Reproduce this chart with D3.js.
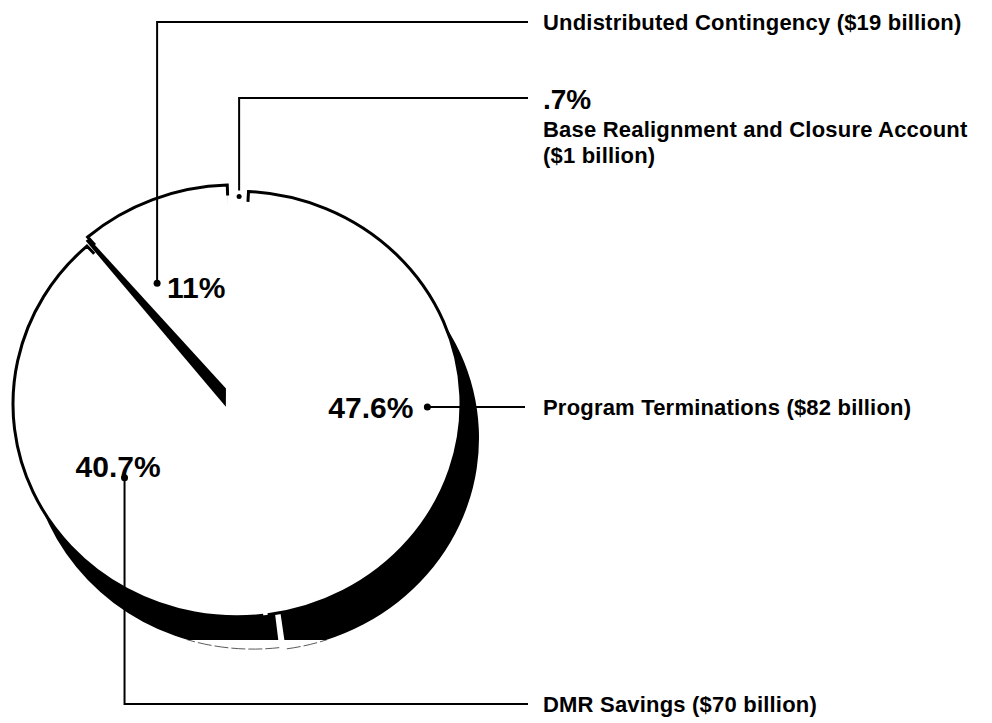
<!DOCTYPE html>
<html>
<head>
<meta charset="utf-8">
<script src="https://cdn.jsdelivr.net/npm/d3@7"></script>
<style>
  body { margin: 0; background: #fff; }
  text { font-family: "Liberation Sans", Arial, sans-serif; font-weight: bold; fill: #000; }
</style>
</head>
<body>
<div id="chart"></div>
<script>
// slices, clockwise from 12 o'clock
const categories = ["Base Realignment and Closure Account", "Program Terminations", "DMR Savings", "Undistributed Contingency"];
const percents = [0.7, 47.6, 40.7, 11];
const billions = [1, 82, 70, 19];
const pctLabels = [".7%", "47.6%", "40.7%", "11%"];

const width = 992, height = 723;
const cx = 237, cy = 404, R = 224, squash = 0.95;
const lineX = 528, textX = 543;
const cutY = 640; // the scan loses the depth below this line

const data = categories.map((c, i) => ({ name: c, pct: percents[i], bn: billions[i], label: pctLabels[i], i }));

const svg = d3.select("#chart").append("svg")
  .attr("width", width)
  .attr("height", height);

const defs = svg.append("defs");
defs.append("clipPath").attr("id", "above")
  .append("rect").attr("x", 0).attr("y", 0).attr("width", width).attr("height", cutY);
defs.append("clipPath").attr("id", "below")
  .append("rect").attr("x", 0).attr("y", cutY).attr("width", width).attr("height", height - cutY);

const startA = -(percents[0] / 100) * Math.PI;
const pie = d3.pie().sort(null).value(d => d.pct)
  .startAngle(startA).endAngle(startA + 2 * Math.PI)
  .padAngle(0.02);
const arcs = pie(data);

const arc = d3.arc().innerRadius(0).outerRadius(R);

const pt = (a, r) => [cx + r * Math.sin(a), cy - r * Math.cos(a) * squash];

const tr = `translate(${cx},${cy}) scale(1,${squash})`;
const shade = svg.append("g").attr("clip-path", "url(#above)").append("g").attr("transform", tr);
const faint = svg.append("g").attr("clip-path", "url(#below)").append("g").attr("transform", tr);
const g = svg.append("g").attr("transform", tr);

// depth (black) under program terminations and DMR
const depth = { 1: [18, 36], 2: [16, 34] };
arcs.filter(d => depth[d.data.i]).forEach(d => {
  const [dx, dy] = depth[d.data.i];
  shade.append("path")
    .attr("d", arc(d))
    .attr("transform", `translate(${dx},${dy})`)
    .attr("fill", "#000");
  const a0 = d.startAngle + d.padAngle / 2, a1 = d.endAngle - d.padAngle / 2;
  const p = d3.path();
  p.arc(dx, dy, R, a0 - Math.PI / 2, a1 - Math.PI / 2);
  faint.append("path")
    .attr("d", p.toString())
    .attr("fill", "none")
    .attr("stroke", "#555")
    .attr("stroke-width", 1)
    .attr("stroke-dasharray", "14,3");
});

// top face base
g.append("path")
  .attr("d", arc({ startAngle: 0, endAngle: 2 * Math.PI, padAngle: 0 }))
  .attr("fill", "#fff");

// undistributed contingency is pulled out a little, its side shows as a band
const explode = { 3: 7 };
const shift = d => {
  const e = explode[d.data.i] || 0;
  const m = (d.startAngle + d.endAngle) / 2;
  return [e * Math.sin(m), -e * Math.cos(m)];
};

// faces + rim outlines with short edge ticks [start, end]
const tick = 11;
const ticks = { 0: [0, 0], 1: [tick, 0], 2: [0, tick], 3: [tick, tick] };
arcs.forEach(d => {
  const s = shift(d);
  const a0 = d.startAngle + d.padAngle / 2, a1 = d.endAngle - d.padAngle / 2;
  if (d.data.i === 3) {
    const px = R * Math.sin(a0), py = -R * Math.cos(a0);
    g.append("path")
      .attr("d", arc(d))
      .attr("transform", `translate(${s[0] - 2},${s[1] + 4}) rotate(2.2,${px},${py})`)
      .attr("fill", "#000");
  }
  const sl = g.append("g").attr("transform", `translate(${s[0]},${s[1]})`);
  sl.append("path").attr("d", arc(d)).attr("fill", "#fff");
  if (d.data.i === 0) return;
  const [t0, t1] = ticks[d.data.i];
  const p = d3.path();
  p.moveTo((R - t0) * Math.sin(a0), -(R - t0) * Math.cos(a0));
  p.lineTo(R * Math.sin(a0), -R * Math.cos(a0));
  p.arc(0, 0, R, a0 - Math.PI / 2, a1 - Math.PI / 2);
  p.lineTo((R - t1) * Math.sin(a1), -(R - t1) * Math.cos(a1));
  sl.append("path")
    .attr("d", p.toString())
    .attr("fill", "none")
    .attr("stroke", "#000")
    .attr("stroke-width", 3)
    .attr("vector-effect", "non-scaling-stroke");
});

// label anchors: fraction across the slice and fraction of the radius
const anchor = { 0: [0.5, 0.975], 1: [0.52, 0.85], 2: [0.43, 0.61], 3: [0.22, 0.64] };
const dot = d => {
  const [t, rf] = anchor[d.data.i];
  const s = shift(d);
  const a = d.startAngle + t * (d.endAngle - d.startAngle);
  const q = pt(a, rf * R);
  return [q[0] + s[0], q[1] + s[1] * squash];
};

const ann = svg.append("g");
const line = (pts) => ann.append("path")
  .attr("d", d3.line()(pts))
  .attr("fill", "none")
  .attr("stroke", "#000")
  .attr("stroke-width", 2);
const label = (x, y, txt) => ann.append("text")
  .attr("x", x).attr("y", y)
  .attr("font-size", 22).attr("letter-spacing", 0.2)
  .text(txt);

arcs.forEach(d => {
  const [x, y] = dot(d);
  const i = d.data.i;
  ann.append("circle").attr("cx", x).attr("cy", y).attr("r", i === 0 ? 2.5 : 3.5).attr("fill", "#000");
  if (i === 3) {
    line([[x, y], [x, 22], [lineX, 22]]);
    label(textX, 30, `${d.data.name} ($${d.data.bn} billion)`);
    ann.append("text").attr("x", x + 10).attr("y", y + 15).attr("font-size", 30).text(d.data.label);
  } else if (i === 0) {
    line([[x, y - 6], [x, 98], [lineX, 98]]);
    ann.append("text").attr("x", textX).attr("y", 109).attr("font-size", 28).text(d.data.label);
    label(textX, 137, d.data.name);
    label(textX, 163, `($${d.data.bn} billion)`);
  } else if (i === 1) {
    line([[x, y], [525, y]]);
    label(textX, y + 8, `${d.data.name} ($${d.data.bn} billion)`);
    ann.append("text").attr("x", x - 14).attr("y", y + 11).attr("font-size", 30)
      .attr("text-anchor", "end").text(d.data.label);
  } else {
    line([[x, y], [x, 704], [lineX, 704]]);
    label(textX, 712, `${d.data.name} ($${d.data.bn} billion)`);
    ann.append("text").attr("x", x - 49).attr("y", y - 1).attr("font-size", 30).text(d.data.label);
  }
});
</script>
</body>
</html>
